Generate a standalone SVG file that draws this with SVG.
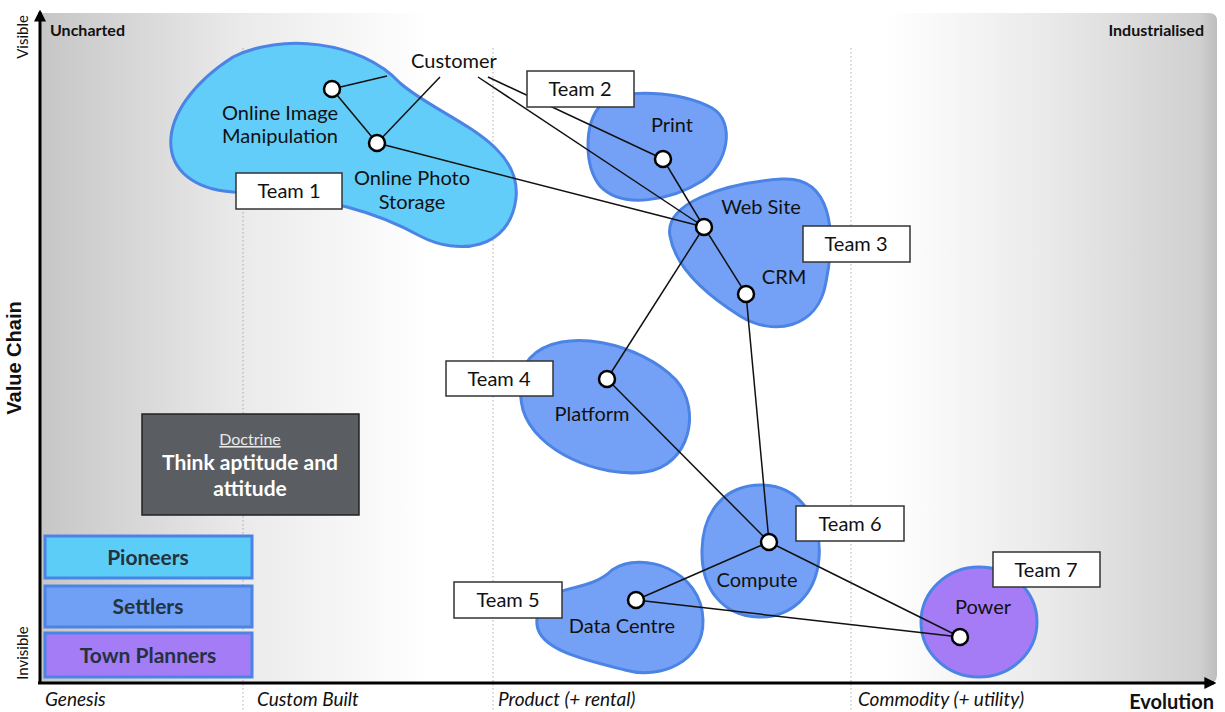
<svg xmlns="http://www.w3.org/2000/svg" width="1225" height="712" viewBox="0 0 1225 712">
<defs>
<linearGradient id="bg" gradientUnits="userSpaceOnUse" x1="40" y1="0" x2="1217" y2="0">
<stop offset="0" stop-color="#c6c6c6"/>
<stop offset="0.17" stop-color="#eaeaea"/>
<stop offset="0.33" stop-color="#ffffff"/>
<stop offset="0.72" stop-color="#ffffff"/>
<stop offset="0.86" stop-color="#e9e9e9"/>
<stop offset="0.985" stop-color="#d0d0d0"/>
<stop offset="1" stop-color="#bdbdbd"/>
</linearGradient>
<marker id="ah" viewBox="0 0 10 10" refX="8" refY="5" markerWidth="4" markerHeight="4" orient="auto">
<path d="M0,0 L10,5 L0,10 Z" fill="#000"/>
</marker>
</defs>
<style>
text{font-family:Lato,"Open Sans","Liberation Sans",sans-serif;fill:#111}
.lbl{font-size:20px;text-anchor:middle}
.ax{font-size:19px;font-style:italic}
.corner{font-size:16px;font-weight:bold}
.tb rect{fill:#fff;stroke:#333;stroke-width:1.5}
.tb text{font-size:20px;text-anchor:middle}
.pio{fill:#62cdf8;stroke:#4b84e4;stroke-width:3}
.set{fill:#74a1f5;stroke:#4b84e4;stroke-width:3}
.tp{fill:#a67cf6;stroke:#4b84e4;stroke-width:3}
.nd{fill:#fff;stroke:#000;stroke-width:2.5}
.dot{stroke:#aaa;stroke-width:1;stroke-dasharray:1.5,2.5}
#connectors line{stroke:#111;stroke-width:1.5}
.leg{font-size:21px;font-weight:bold;fill:#24323f;text-anchor:middle}
</style>

<path d="M40,13 H1209 Q1217,13 1217,21 V675 Q1217,683 1209,683 H40 Z" fill="url(#bg)"/>

<g id="dividers">
<line class="dot" x1="243" y1="48" x2="243" y2="712"/>
<line class="dot" x1="493" y1="48" x2="493" y2="712"/>
<line class="dot" x1="851" y1="48" x2="851" y2="712"/>
</g>

<g id="axes">
<line x1="40" y1="684" x2="40" y2="12" stroke="#000" stroke-width="3" marker-end="url(#ah)"/>
<line x1="38" y1="683" x2="1214" y2="683" stroke="#000" stroke-width="3" marker-end="url(#ah)"/>
<text class="corner" x="50" y="36">Uncharted</text>
<text class="corner" x="1204" y="36" text-anchor="end">Industrialised</text>
<text x="28" y="37" font-size="15" text-anchor="middle" transform="rotate(-90 28 37)">Visible</text>
<text x="28" y="653" font-size="15" text-anchor="middle" transform="rotate(-90 28 653)">Invisible</text>
<text x="21" y="358" font-size="20" font-weight="bold" text-anchor="middle" transform="rotate(-90 21 358)" style="font-family:'Liberation Sans',Arial,sans-serif">Value Chain</text>
<text class="ax" x="45" y="706">Genesis</text>
<text class="ax" x="257" y="706">Custom Built</text>
<text class="ax" x="498" y="706">Product (+ rental)</text>
<text class="ax" x="858" y="706">Commodity (+ utility)</text>
<text x="1214" y="709" font-size="20" font-weight="bold" text-anchor="end">Evolution</text>
</g>

<g id="blobs">
<path class="pio" d="M233,192 C150,186 150,110 233,57 C280,33 360,40 400,83 C440,118 522,140 516,198 C510,250 458,256 420,236 C380,214 330,196 233,192 Z"/>
<path class="set" d="M600,106 C622,86 682,92 712,108 C736,122 728,164 702,181 C672,200 622,210 600,186 C584,166 584,124 600,106 Z"/>
<path class="set" d="M670,236 C664,204 722,183 782,179 C832,176 836,232 826,282 C818,330 772,336 740,316 C702,292 675,266 670,236 Z"/>
<path class="set" d="M530,358 C562,324 642,344 676,380 C702,410 690,466 645,472 C600,478 536,452 523,410 C518,390 520,370 530,358 Z"/>
<path class="set" d="M761,485 C800,485 822,520 819,558 C816,596 790,618 758,617 C724,616 701,590 702,550 C703,512 724,485 761,485 Z"/>
<path class="set" d="M545,600 C562,585 592,590 612,570 C642,550 702,570 703,620 C704,662 660,680 625,670 C585,660 540,650 537,625 C536,612 540,606 545,600 Z"/>
<ellipse class="tp" cx="979" cy="622" rx="58" ry="55"/>
</g>

<g id="connectors">
<line x1="332" y1="89" x2="387" y2="76"/>
<line x1="377" y1="143" x2="440" y2="77"/>
<line x1="488" y1="77" x2="663" y2="159"/>
<line x1="478" y1="77" x2="704" y2="227"/>
<line x1="332" y1="89" x2="377" y2="143"/>
<line x1="377" y1="143" x2="704" y2="227"/>
<line x1="663" y1="159" x2="704" y2="227"/>
<line x1="704" y1="227" x2="746" y2="294"/>
<line x1="704" y1="227" x2="607" y2="379"/>
<line x1="746" y1="294" x2="769" y2="542"/>
<line x1="607" y1="379" x2="769" y2="542"/>
<line x1="769" y1="542" x2="636" y2="600"/>
<line x1="769" y1="542" x2="960" y2="637"/>
<line x1="636" y1="600" x2="960" y2="637"/>
</g>

<g id="customer"><text class="lbl" x="454" y="68">Customer</text></g>
<g id="online-image"><circle class="nd" cx="332" cy="89" r="8"/><text class="lbl" x="280" y="120">Online Image</text><text class="lbl" x="280" y="143">Manipulation</text></g>
<g id="online-photo"><circle class="nd" cx="377" cy="143" r="8"/><text class="lbl" x="412" y="185">Online Photo</text><text class="lbl" x="412" y="209">Storage</text></g>
<g id="print"><circle class="nd" cx="663" cy="159" r="8"/><text class="lbl" x="672" y="132">Print</text></g>
<g id="website"><circle class="nd" cx="704" cy="227" r="8"/><text class="lbl" x="761" y="214">Web Site</text></g>
<g id="crm"><circle class="nd" cx="746" cy="294" r="8"/><text class="lbl" x="784" y="284">CRM</text></g>
<g id="platform"><circle class="nd" cx="607" cy="379" r="8"/><text class="lbl" x="592" y="421">Platform</text></g>
<g id="compute"><circle class="nd" cx="769" cy="542" r="8"/><text class="lbl" x="757" y="587">Compute</text></g>
<g id="datacentre"><circle class="nd" cx="636" cy="600" r="8"/><text class="lbl" x="622" y="633">Data Centre</text></g>
<g id="power"><circle class="nd" cx="960" cy="637" r="8"/><text class="lbl" x="983" y="614">Power</text></g>

<g id="team1" class="tb"><rect x="236" y="173" width="106" height="36"/><text x="289" y="198">Team 1</text></g>
<g id="team2" class="tb"><rect x="527" y="71" width="107" height="36"/><text x="580" y="96">Team 2</text></g>
<g id="team3" class="tb"><rect x="803" y="226" width="107" height="36"/><text x="856" y="251">Team 3</text></g>
<g id="team4" class="tb"><rect x="446" y="361" width="107" height="35"/><text x="499" y="386">Team 4</text></g>
<g id="team5" class="tb"><rect x="454" y="582" width="108" height="36"/><text x="508" y="607">Team 5</text></g>
<g id="team6" class="tb"><rect x="796" y="506" width="108" height="35"/><text x="850" y="531">Team 6</text></g>
<g id="team7" class="tb"><rect x="993" y="552" width="107" height="35"/><text x="1046" y="577">Team 7</text></g>

<g id="doctrine">
<rect x="142" y="414" width="217" height="101" fill="#5a5d62" stroke="#222" stroke-width="1.5"/>
<text x="250" y="445" font-size="16" text-anchor="middle" text-decoration="underline" style="fill:#e8e8e8">Doctrine</text>
<text x="250" y="470" font-size="21" font-weight="bold" text-anchor="middle" style="fill:#fff">Think aptitude and</text>
<text x="250" y="496" font-size="21" font-weight="bold" text-anchor="middle" style="fill:#fff">attitude</text>
</g>

<g id="legend">
<rect x="45" y="536" width="207" height="42" fill="#5ccdf6" stroke="#4b84e4" stroke-width="3"/>
<text class="leg" x="148" y="565">Pioneers</text>
<rect x="45" y="586" width="207" height="41" fill="#6fa0f6" stroke="#4b84e4" stroke-width="3"/>
<text class="leg" x="148" y="614">Settlers</text>
<rect x="45" y="633" width="207" height="44" fill="#a47cf6" stroke="#4b84e4" stroke-width="3"/>
<text class="leg" x="148" y="663">Town Planners</text>
</g>
</svg>
